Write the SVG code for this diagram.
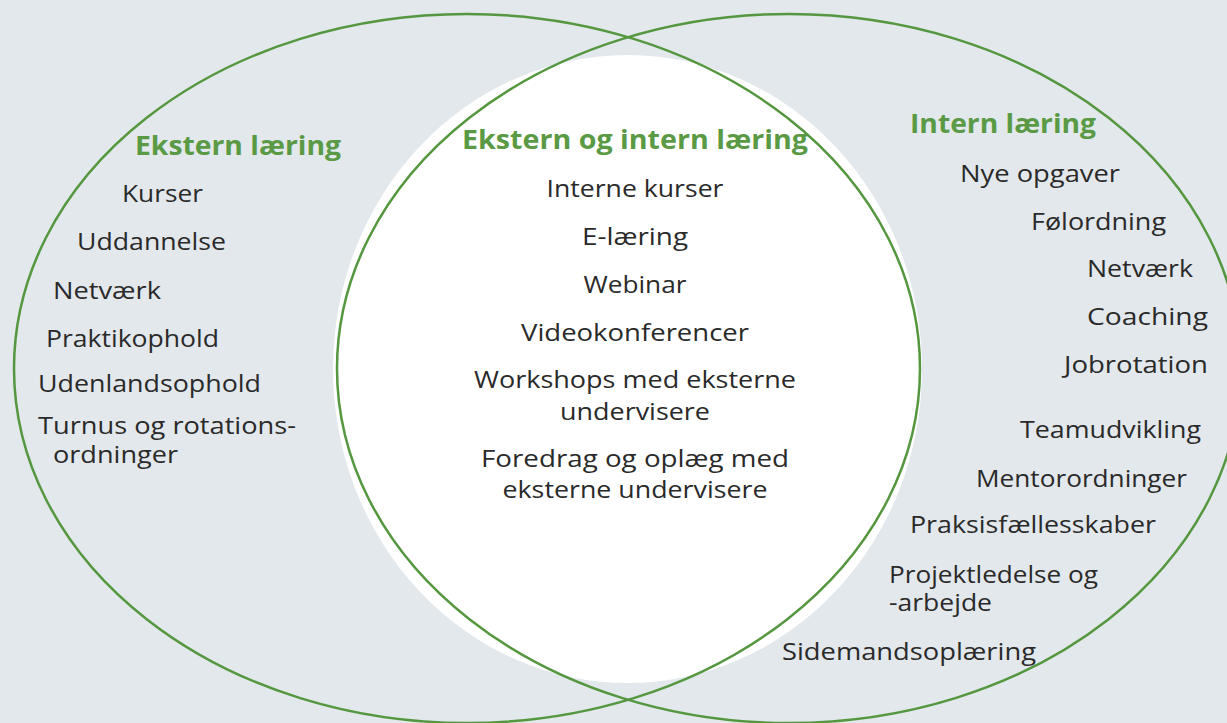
<svg xmlns="http://www.w3.org/2000/svg" width="1227" height="723" viewBox="0 0 1227 723">
<style>
.ring{fill:none;stroke:#55973f;stroke-width:2.5}
.t{font-family:"Open Sans","Noto Sans","Liberation Sans",sans-serif;font-size:23px;fill:#2a2a2a}
.h{font-family:"Open Sans","Noto Sans","Liberation Sans",sans-serif;font-size:27px;font-weight:bold;fill:#5b9a45}
.c{text-anchor:middle}
</style>
<rect x="0" y="0" width="1227" height="723" fill="#e2e8ec"/>
<g id="overlap-area">
<ellipse cx="627.5" cy="369" rx="294.5" ry="314" fill="#ffffff"/>
</g>
<g id="left-ellipse">
<ellipse class="ring" cx="467" cy="368.5" rx="453" ry="354.5"/>
</g>
<g id="right-ellipse">
<ellipse class="ring" cx="789" cy="368.5" rx="452" ry="354.5"/>
</g>
<g id="ekstern">
<text class="h" x="135" y="155" textLength="206" lengthAdjust="spacingAndGlyphs">Ekstern læring</text>
<text class="t" x="122" y="202" textLength="81" lengthAdjust="spacingAndGlyphs">Kurser</text>
<text class="t" x="77" y="250" textLength="149" lengthAdjust="spacingAndGlyphs">Uddannelse</text>
<text class="t" x="53" y="299" textLength="108" lengthAdjust="spacingAndGlyphs">Netværk</text>
<text class="t" x="46" y="347" textLength="173" lengthAdjust="spacingAndGlyphs">Praktikophold</text>
<text class="t" x="38" y="392" textLength="223" lengthAdjust="spacingAndGlyphs">Udenlandsophold</text>
<text class="t" x="38" y="434" textLength="258" lengthAdjust="spacingAndGlyphs">Turnus og rotations-</text>
<text class="t" x="53" y="463" textLength="125" lengthAdjust="spacingAndGlyphs">ordninger</text>
</g>
<g id="ekstern-og-intern">
<text class="h" x="462" y="149" textLength="346" lengthAdjust="spacingAndGlyphs">Ekstern og intern læring</text>
<text class="t c" x="635" y="197" textLength="177" lengthAdjust="spacingAndGlyphs">Interne kurser</text>
<text class="t c" x="635" y="245" textLength="106" lengthAdjust="spacingAndGlyphs">E-læring</text>
<text class="t c" x="635" y="293" textLength="103" lengthAdjust="spacingAndGlyphs">Webinar</text>
<text class="t c" x="635" y="341" textLength="228" lengthAdjust="spacingAndGlyphs">Videokonferencer</text>
<text class="t c" x="635" y="388" textLength="322" lengthAdjust="spacingAndGlyphs">Workshops med eksterne</text>
<text class="t c" x="635" y="420" textLength="150" lengthAdjust="spacingAndGlyphs">undervisere</text>
<text class="t c" x="635" y="467" textLength="308" lengthAdjust="spacingAndGlyphs">Foredrag og oplæg med</text>
<text class="t c" x="635" y="498" textLength="265" lengthAdjust="spacingAndGlyphs">eksterne undervisere</text>
</g>
<g id="intern">
<text class="h" x="910" y="133" textLength="186" lengthAdjust="spacingAndGlyphs">Intern læring</text>
<text class="t" x="960" y="182" textLength="160" lengthAdjust="spacingAndGlyphs">Nye opgaver</text>
<text class="t" x="1031" y="230" textLength="135" lengthAdjust="spacingAndGlyphs">Følordning</text>
<text class="t" x="1087" y="277" textLength="106" lengthAdjust="spacingAndGlyphs">Netværk</text>
<text class="t" x="1087" y="325" textLength="121" lengthAdjust="spacingAndGlyphs">Coaching</text>
<text class="t" x="1064" y="373" textLength="144" lengthAdjust="spacingAndGlyphs">Jobrotation</text>
<text class="t" x="1020" y="438" textLength="181" lengthAdjust="spacingAndGlyphs">Teamudvikling</text>
<text class="t" x="976" y="487" textLength="211" lengthAdjust="spacingAndGlyphs">Mentorordninger</text>
<text class="t" x="910" y="533" textLength="246" lengthAdjust="spacingAndGlyphs">Praksisfællesskaber</text>
<text class="t" x="889" y="583" textLength="209" lengthAdjust="spacingAndGlyphs">Projektledelse og</text>
<text class="t" x="889" y="611" textLength="103" lengthAdjust="spacingAndGlyphs">-arbejde</text>
<text class="t" x="782" y="660" textLength="254" lengthAdjust="spacingAndGlyphs">Sidemandsoplæring</text>
</g>
</svg>
